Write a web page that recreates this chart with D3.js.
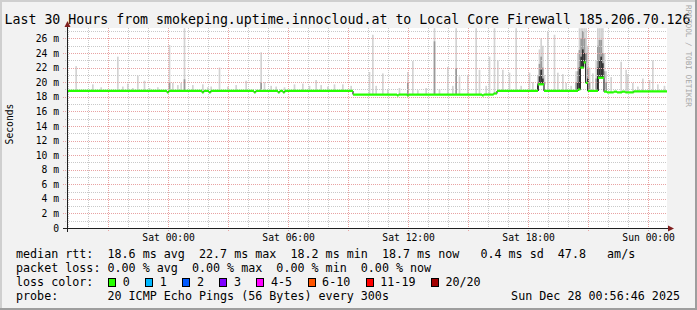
<!DOCTYPE html>
<html>
<head>
<meta charset="utf-8" />
<script src="https://d3js.org/d3.v7.min.js"></script>
<style>
  body { margin: 0; background: #f2f2f2; }
  svg text { font-family: "DejaVu Sans Mono", monospace; fill: #000; white-space: pre; }
</style>
</head>
<body>
<script>
// ---- data ----
var start = new Date(2025, 11, 26, 18, 56, 46);
var end = new Date(2025, 11, 28, 0, 56, 46);
var stepMinutes = 5;

// median rtt (ms), step changes: minutes after start -> value
var medianMinute = [0, 300, 305, 405, 410, 426, 431, 561, 566, 633, 638, 648, 653, 858, 990, 995, 1020, 1025, 1245, 1250, 1280, 1290, 1413, 1431, 1533, 1540, 1550, 1556, 1562, 1593, 1611, 1620, 1640, 1650, 1665, 1675, 1700, 1800];
var medianMs =     [18.8, 18.6, 18.8, 18.6, 18.8, 18.6, 18.8, 18.6, 18.8, 18.6, 18.8, 18.6, 18.8, 18.3, 18.2, 18.3, 18.2, 18.3, 18.2, 18.3, 18.45, 18.8, 19.7, 18.8, 19.0, 22.0, 22.7, 19.9, 18.8, 20.6, 18.7, 18.6, 18.7, 18.6, 18.7, 18.6, 18.75, 18.75];

// smoke: slot start (minutes after start), highest ping, upper band, dense core (ms)
var smokeMinute = [25, 75, 100, 150, 165, 180, 195, 210, 230, 245, 270, 305, 315, 330, 340, 350, 375, 405, 420, 430, 455, 480, 505, 535, 580, 590, 610, 625, 650, 680, 705, 725, 745, 760, 780, 800, 825, 850,
  905, 915, 925, 945, 960, 995, 1020, 1035, 1050, 1075, 1100, 1115, 1140, 1155, 1165, 1175, 1200, 1225, 1235, 1255, 1265, 1280,
  1290, 1305, 1325, 1345, 1360, 1385, 1395, 1410, 1415, 1420, 1425, 1430, 1440, 1460, 1470, 1485, 1495, 1510,
  1525, 1530, 1535, 1540, 1545, 1550, 1555, 1560, 1565, 1575, 1585, 1590, 1595, 1600, 1605, 1610, 1615,
  1630, 1660, 1675, 1680, 1695, 1710, 1725, 1745, 1755, 1770, 1790];
var smokeMax = [22.2, 19.7, 19.3, 23.5, 19.4, 19.8, 19.2, 20.9, 20.2, 19.2, 19.3, 25.1, 19.9, 19.6, 19.9, 27.4, 19.6, 19.7, 19.3, 19.4, 22.0, 19.4, 19.6, 20.2, 24.1, 20.0, 19.5, 19.4, 19.3, 19.7, 19.8, 19.5, 20.3, 19.6, 19.4, 19.7, 19.7, 19.5,
  21.4, 26.5, 19.5, 21.2, 19.0, 19.2, 21.4, 22.9, 18.9, 19.2, 27.4, 19.0, 22.1, 19.5, 27.4, 20.8, 21.0, 27.4, 21.7, 19.5, 23.5, 27.4,
  23.0, 21.7, 21.3, 27.4, 19.5, 21.3, 20.0, 21.0, 24.5, 26.0, 25.0, 21.0, 26.9, 26.5, 21.3, 21.1, 19.9, 19.5,
  21.5, 24.0, 27.4, 27.4, 27.4, 27.4, 27.4, 25.0, 22.0, 21.2, 23.0, 27.4, 27.4, 27.4, 27.4, 24.0, 21.5,
  20.7, 22.8, 21.7, 21.1, 19.9, 19.4, 20.5, 20.3, 23.0, 19.7, 19.5];
var smokeUpper = [0, 0, 0, 0, 0, 0, 0, 0, 0, 0, 0, 20.0, 0, 0, 0, 20.4, 0, 0, 0, 0, 0, 0, 0, 0, 20.0, 0, 0, 0, 0, 0, 0, 0, 0, 0, 0, 0, 0, 0,
  0, 0, 0, 0, 0, 0, 20.0, 0, 0, 0, 25.6, 0, 0, 0, 21.9, 0, 0, 0, 0, 0, 0, 0,
  0, 0, 0, 0, 0, 0, 0, 20.0, 22.5, 23.5, 22.0, 20.0, 0, 0, 0, 0, 0, 0,
  20.0, 21.5, 24.4, 26.0, 27.0, 26.0, 24.0, 22.0, 20.0, 0, 20.5, 25.0, 25.8, 25.8, 24.0, 21.5, 20.0,
  0, 0, 0, 0, 0, 0, 0, 0, 0, 0, 0];
var smokeCore = [0, 0, 0, 0, 0, 0, 0, 0, 0, 0, 0, 0, 0, 0, 0, 0, 0, 0, 0, 0, 0, 0, 0, 0, 0, 0, 0, 0, 0, 0, 0, 0, 0, 0, 0, 0, 0, 0,
  0, 0, 0, 0, 0, 0, 0, 0, 0, 0, 0, 0, 0, 0, 0, 0, 0, 0, 0, 0, 0, 0,
  0, 0, 0, 0, 0, 0, 0, 19.5, 20.8, 21.7, 20.5, 0, 0, 0, 0, 0, 0, 0,
  0, 20.0, 22.0, 23.5, 24.5, 24.0, 22.0, 20.5, 0, 0, 0, 22.0, 23.0, 23.5, 22.6, 20.0, 0,
  0, 0, 0, 0, 0, 0, 0, 0, 0, 0, 0];

var yTicks = [0, 2, 4, 6, 8, 10, 12, 14, 16, 18, 20, 22, 24, 26];
var yMaxMs = 27.43;

var titleText = "Last 30 Hours from smokeping.uptime.innocloud.at to Local Core Firewall 185.206.70.126";
var legendRows = [
  "median rtt:  18.6 ms avg  22.7 ms max  18.2 ms min  18.7 ms now   0.4 ms sd  47.8   am/s",
  "packet loss: 0.00 % avg  0.00 % max  0.00 % min  0.00 % now",
  "loss color:",
  "probe:       20 ICMP Echo Pings (56 Bytes) every 300s"
];
var lossColorNames = ["0", "1", "2", "3", "4-5", "6-10", "11-19", "20/20"];
var lossColors = ["#26ff00", "#00b8ff", "#0059ff", "#7e00ff", "#ff00ff", "#ff5500", "#ff0000", "#a10000"];
var stampText = "Sun Dec 28 00:56:46 2025";

// ---- layout ----
var W = 697, H = 310;
var plotL = 67, plotR = 667, plotT = 28, plotB = 228;

var minute = function (m) { return new Date(start.getTime() + m * 60000); };

var x = d3.scaleTime().domain([start, end]).range([plotL, plotR]);
var y = d3.scaleLinear().domain([0, yMaxMs]).range([plotB, plotT]);

var svg = d3.select("body").append("svg").attr("width", W).attr("height", H);

svg.append("rect").attr("width", W).attr("height", H).attr("fill", "#f2f2f2");
svg.append("rect").attr("x", 0).attr("y", 0).attr("width", W).attr("height", 2).attr("fill", "#cfcfcf");
svg.append("rect").attr("x", 0).attr("y", 0).attr("width", 2).attr("height", H).attr("fill", "#cfcfcf");
svg.append("rect").attr("x", 0).attr("y", H - 2).attr("width", W).attr("height", 2).attr("fill", "#9e9e9e");
svg.append("rect").attr("x", W - 2).attr("y", 0).attr("width", 2).attr("height", H).attr("fill", "#9e9e9e");

svg.append("rect").attr("x", plotL).attr("y", plotT).attr("width", plotR - plotL).attr("height", plotB - plotT).attr("fill", "#fff");

svg.append("clipPath").attr("id", "plot")
  .append("rect").attr("x", plotL).attr("y", plotT).attr("width", plotR - plotL).attr("height", plotB - plotT);

// median lookup
var medianPts = medianMinute.map(function (m, i) { return { t: minute(m), v: medianMs[i] }; });
var bis = d3.bisector(function (d) { return d.t; }).right;
function medianAt(t) { return medianPts[Math.max(0, bis(medianPts, t) - 1)].v; }

// smoke
var smoke = smokeMinute.map(function (m, i) {
  return { t: minute(m), t1: minute(m + stepMinutes), max: smokeMax[i], upper: smokeUpper[i], core: smokeCore[i] };
});
var gSmoke = svg.append("g").attr("clip-path", "url(#plot)");
[["max", "#d3d3d3"], ["upper", "#9a9a9a"], ["core", "#333333"]].forEach(function (band) {
  gSmoke.selectAll("rect." + band[0])
    .data(smoke.filter(function (d) { return d[band[0]] > 0; }))
    .enter().append("rect")
    .attr("class", band[0])
    .attr("x", function (d) { return x(d.t); })
    .attr("width", function (d) { return x(d.t1) - x(d.t); })
    .attr("y", function (d) { return y(d[band[0]]); })
    .attr("height", function (d) { return Math.max(0, y(medianAt(d.t)) - y(d[band[0]])); })
    .attr("fill", band[1]);
});

// grid
var minorY = d3.range(1, 28, 2).filter(function (v) { return v < yMaxMs; });
var grid = svg.append("g").attr("shape-rendering", "crispEdges").attr("stroke-dasharray", "1,1");
grid.selectAll("line.hy").data(minorY).enter().append("line")
  .attr("x1", plotL - 2).attr("x2", plotR)
  .attr("y1", function (d) { return Math.round(y(d)) + 0.5; })
  .attr("y2", function (d) { return Math.round(y(d)) + 0.5; })
  .attr("stroke", "#c9c9c9");
grid.selectAll("line.vy").data(x.ticks(d3.timeHour.every(1)).filter(function (d) { return d.getHours() % 3 !== 0; }))
  .enter().append("line")
  .attr("x1", function (d) { return Math.round(x(d)) + 0.5; })
  .attr("x2", function (d) { return Math.round(x(d)) + 0.5; })
  .attr("y1", plotT).attr("y2", plotB + 2)
  .attr("stroke", "#c9c9c9");
grid.selectAll("line.hm").data(yTicks.slice(1)).enter().append("line")
  .attr("x1", plotL - 4).attr("x2", plotR)
  .attr("y1", function (d) { return Math.round(y(d)) + 0.5; })
  .attr("y2", function (d) { return Math.round(y(d)) + 0.5; })
  .attr("stroke", "#e8a3a3");
grid.selectAll("line.vm").data(x.ticks(d3.timeHour.every(3)))
  .enter().append("line")
  .attr("x1", function (d) { return Math.round(x(d)) + 0.5; })
  .attr("x2", function (d) { return Math.round(x(d)) + 0.5; })
  .attr("y1", plotT).attr("y2", plotB + 4)
  .attr("stroke", "#e8a3a3");

// median: flat green pieces per step, dark joins between them
var medianSegs = medianPts.slice(0, -1).map(function (d, i) {
  return { t0: d.t, t1: medianPts[i + 1].t, v: d.v, next: medianPts[i + 1].v };
});
var gMed = svg.append("g").attr("clip-path", "url(#plot)");
gMed.selectAll("line.join").data(medianSegs.slice(0, -1)).enter().append("line")
  .attr("class", "join")
  .attr("x1", function (d) { return x(d.t1); }).attr("x2", function (d) { return x(d.t1); })
  .attr("y1", function (d) { return y(d.v); }).attr("y2", function (d) { return y(d.next); })
  .attr("stroke", "#222").attr("stroke-width", 1.2);
gMed.selectAll("line.med").data(medianSegs).enter().append("line")
  .attr("class", "med")
  .attr("x1", function (d) { return x(d.t0); }).attr("x2", function (d) { return x(d.t1); })
  .attr("y1", function (d) { return y(d.v); }).attr("y2", function (d) { return y(d.v); })
  .attr("stroke", lossColors[0]).attr("stroke-width", 2.2);

// axes lines + arrows
svg.append("line").attr("x1", plotL - 4).attr("x2", plotR + 3).attr("y1", plotB + 0.5).attr("y2", plotB + 0.5)
  .attr("stroke", "#1f1f1f").attr("shape-rendering", "crispEdges");
svg.append("line").attr("x1", plotL + 0.5).attr("x2", plotL + 0.5).attr("y1", plotB + 4).attr("y2", plotT - 3)
  .attr("stroke", "#1f1f1f").attr("shape-rendering", "crispEdges");
svg.append("path").attr("d", "M" + (plotR + 7) + "," + (plotB + 0.5) + " L" + (plotR + 1) + "," + (plotB - 2.5) + " L" + (plotR + 1) + "," + (plotB + 3.5) + "Z").attr("fill", "#801f1f");
svg.append("path").attr("d", "M" + (plotL + 0.5) + "," + (plotT - 7) + " L" + (plotL - 2.5) + "," + (plotT - 1) + " L" + (plotL + 3.5) + "," + (plotT - 1) + "Z").attr("fill", "#801f1f");

// axis labels
var yAxis = svg.append("g").attr("transform", "translate(" + plotL + ",0)")
  .call(d3.axisLeft(y).tickValues(yTicks).tickSize(0).tickPadding(8)
    .tickFormat(function (d) { return d === 0 ? "0" : d + " m"; }));
yAxis.select(".domain").remove();
yAxis.selectAll("text").style("font-family", "DejaVu Sans Mono").style("font-size", "9.7px").attr("fill", "#000");

var xAxis = svg.append("g").attr("transform", "translate(0," + plotB + ")")
  .call(d3.axisBottom(x).ticks(d3.timeHour.every(6)).tickSize(0).tickPadding(6)
    .tickFormat(d3.timeFormat("%a %H:%M")));
xAxis.select(".domain").remove();
xAxis.selectAll("text").style("font-family", "DejaVu Sans Mono").style("font-size", "9.7px").attr("fill", "#000");

svg.append("text").attr("transform", "translate(13,124) rotate(-90)")
  .attr("text-anchor", "middle").style("font-size", "9.7px").text("Seconds");

svg.append("text").attr("x", 4.5).attr("y", 23.5).style("font-size", "13.25px").text(titleText);

svg.append("text").attr("transform", "translate(685.5,56) rotate(90)")
  .attr("text-anchor", "middle").style("font-size", "7.7px").style("fill", "#a6a6a6")
  .text("RRDTOOL / TOBI OETIKER");

// legend
var legendFont = "11.7px";
var rowY = [258, 272, 286, 299.5];
svg.selectAll("text.leg").data(legendRows).enter().append("text").attr("class", "leg")
  .attr("x", 16).attr("y", function (d, i) { return rowY[i]; }).style("font-size", legendFont)
  .text(function (d) { return d; });

var cursor = 108.3;
lossColorNames.forEach(function (name, i) {
  svg.append("rect").attr("x", Math.round(cursor) + 0.5).attr("y", 278.5).attr("width", 7).attr("height", 8)
    .attr("fill", lossColors[i]).attr("stroke", "#000").attr("stroke-width", 1);
  var t = svg.append("text").attr("x", cursor + 14.5).attr("y", rowY[2]).style("font-size", legendFont).text(name);
  cursor = cursor + 14.5 + t.node().getComputedTextLength() + 15.5;
});

svg.append("text").attr("x", 680).attr("y", rowY[3]).attr("text-anchor", "end").style("font-size", legendFont).text(stampText);
</script>
</body>
</html>
